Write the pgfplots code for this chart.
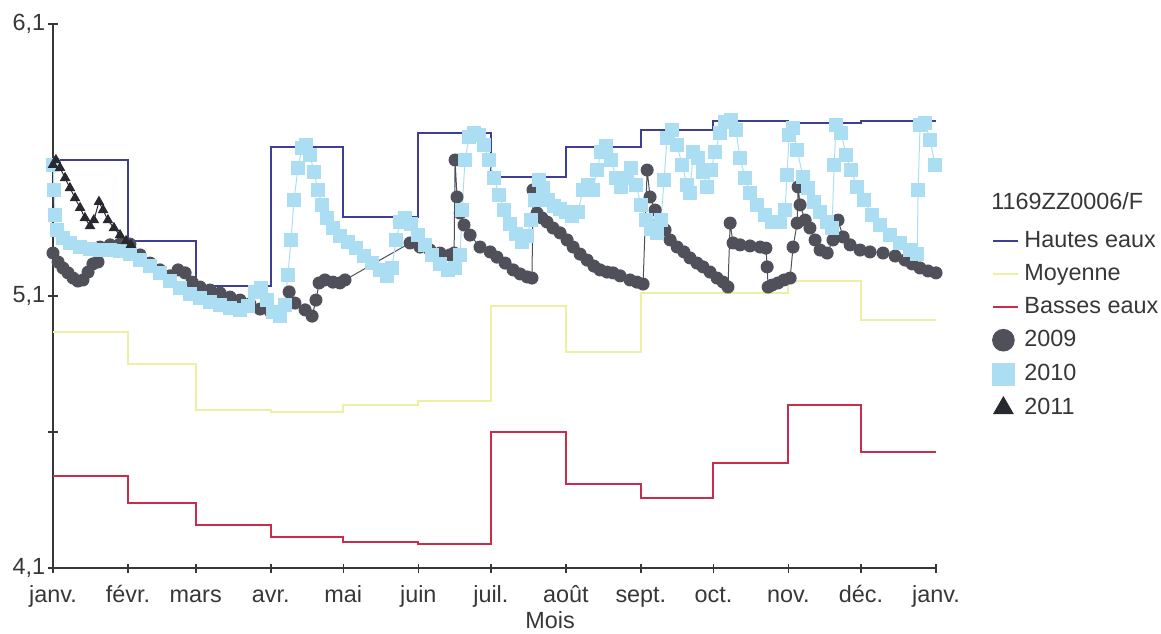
\documentclass[border=0pt]{standalone}
\usepackage{fontspec}
\setmainfont{Liberation Sans}
\usepackage{pgfplots}
\pgfplotsset{compat=1.18}
\definecolor{hautes}{RGB}{62,62,150}
\definecolor{moy}{RGB}{236,240,160}
\definecolor{basses}{RGB}{200,45,75}
\definecolor{c2009}{RGB}{80,80,90}
\definecolor{c2010}{RGB}{172,222,243}
\definecolor{c2011}{RGB}{40,40,48}
\definecolor{txt}{RGB}{55,55,55}
\pgfplotsset{legmark/.style={legend image code/.code={\draw[##1, mark size=#1] plot coordinates {(5pt,0pt)};}}}
\begin{document}
\begin{tikzpicture}[font=\fontsize{11.7}{14}\selectfont]
\path[use as bounding box] (-26.5pt,-32.5pt) rectangle (554pt,284pt);
\begin{axis}[
  scale only axis, width=441.5pt, height=272pt,
  at={(0,0)}, anchor=south west,
  xmin=0, xmax=365, ymin=4.1, ymax=6.1,
  axis x line*=bottom, axis y line*=left,
  axis line style={draw=txt, line width=0.8pt},
  tick align=center, major tick length=4.5pt,
  tick style={draw=txt, line width=0.8pt},
  xtick={0,31,59,90,120,151,181,212,243,273,304,334,365},
  xticklabels={janv.,févr.,mars,avr.,mai,juin,juil.,août,sept.,oct.,nov.,déc.,janv.},
  ytick={4.1,4.6,5.1,5.6,6.1},
  yticklabels={{4,1},{},{5,1},{},{6,1}},
  ticklabel style={text=txt, font=\fontsize{11.7}{14}\selectfont},
  xticklabel style={anchor=base, inner sep=0pt, yshift=-15pt},
  yticklabel style={anchor=east, inner sep=0pt, xshift=-1.5pt},
  xlabel={Mois},
  xlabel style={at={(axis description cs:0.563,0)}, anchor=base, yshift=-30pt, text=txt, inner sep=0pt},
  legend style={at={(axis description cs:1.0634,0.6213)}, anchor=north west, draw=none, fill=none,
    inner sep=0pt, row sep=6pt, column sep=2.5pt,
    nodes={inner sep=0pt, text height=8.5pt, text depth=2pt, text=txt},
    font=\fontsize{11.7}{14}\selectfont},
  legend cell align=left,
  legend image code/.code={\draw[#1] (0pt,0pt) -- (12.5pt,0pt);},
]
\addplot[hautes, line width=1pt, const plot] coordinates {
(0,5.600)(31,5.302)(59,5.137)(90,5.648)(120,5.392)(151,5.699)(181,5.537)(212,5.648)(243,5.710)(273,5.743)(304,5.736)(334,5.743)(365,5.743)};
\addlegendentry{Hautes eaux}
\addplot[moy, line width=1pt, const plot] coordinates {
(0,4.968)(31,4.850)(59,4.680)(90,4.675)(120,4.700)(151,4.715)(181,5.065)(212,4.893)(243,5.110)(273,5.110)(304,5.155)(334,5.010)(365,5.010)};
\addlegendentry{Moyenne}
\addplot[basses, line width=1pt, const plot] coordinates {
(0,4.438)(31,4.339)(59,4.258)(90,4.214)(120,4.196)(151,4.188)(181,4.600)(212,4.409)(243,4.357)(273,4.486)(304,4.699)(334,4.526)(365,4.526)};
\addlegendentry{Basses eaux}
\addplot[c2009, line width=0.5pt, mark=*, mark size=3pt, mark options={fill=c2009, draw=c2009}, legmark=5.4pt] coordinates {
(0,5.258)(2.1,5.225)(4.1,5.203)(6.2,5.185)(8.3,5.166)(10.3,5.155)(12.4,5.159)(14.5,5.188)(16.5,5.218)(18.6,5.225)(19.4,5.280)(23.6,5.288)(27.7,5.291)(31.8,5.291)(36.0,5.251)(40.1,5.221)(44.2,5.196)(48.4,5.174)(51.7,5.196)(54.6,5.185)(57.5,5.151)(60.8,5.133)(64.9,5.122)(69.0,5.111)(73.2,5.096)(77.3,5.085)(81.4,5.071)(85.6,5.052)(89.7,5.045)(93.8,5.038)(97.6,5.115)(100.0,5.074)(104.2,5.049)(107.1,5.026)(108.7,5.085)(110.0,5.148)(112.4,5.159)(115.7,5.151)(118.6,5.148)(120.7,5.159)(147.6,5.295)(151.7,5.280)(155.8,5.269)(160.0,5.258)(164.1,5.251)(165.8,5.258)(166.2,5.600)(167.0,5.464)(168.3,5.405)(169.9,5.361)(172.4,5.324)(176.5,5.280)(180.7,5.262)(183.5,5.243)(186.9,5.221)(190.2,5.196)(193.1,5.181)(196.0,5.170)(198.0,5.166)(198.4,5.490)(200.1,5.405)(202.1,5.387)(204.2,5.372)(206.7,5.350)(209.6,5.332)(212.5,5.306)(215.0,5.280)(217.9,5.254)(220.8,5.232)(223.6,5.210)(226.1,5.196)(229.0,5.188)(231.5,5.185)(234.4,5.174)(238.5,5.159)(241.4,5.151)(243.9,5.144)(245.6,5.563)(246.8,5.464)(248.9,5.416)(250.9,5.379)(253.0,5.343)(255.1,5.306)(258.0,5.280)(260.8,5.262)(263.3,5.240)(266.2,5.221)(268.7,5.207)(271.6,5.188)(274.5,5.166)(277.0,5.151)(279.0,5.133)(279.9,5.368)(281.1,5.295)(284.0,5.288)(288.1,5.284)(292.3,5.280)(294.7,5.276)(295.2,5.207)(295.6,5.133)(297.2,5.140)(299.7,5.148)(302.2,5.159)(304.7,5.166)(305.9,5.280)(307.6,5.368)(308.0,5.501)(308.8,5.435)(310.9,5.379)(312.9,5.350)(315.0,5.306)(317.1,5.269)(320.0,5.258)(322.4,5.306)(324.5,5.379)(326.6,5.317)(329.5,5.288)(333.6,5.269)(337.7,5.262)(343.1,5.258)(348.1,5.247)(352.2,5.232)(355.1,5.218)(358.4,5.203)(361.7,5.192)(365,5.185)};
\addlegendentry{2009}
\addplot[c2010, line width=0.5pt, mark=square*, mark size=3.3pt, mark options={fill=c2010, draw=c2010}, legmark=5.5pt] coordinates {
(0,5.582)(0.4,5.490)(0.8,5.398)(1.7,5.343)(4.1,5.313)(7.0,5.295)(11.2,5.280)(15.3,5.273)(19.4,5.269)(23.6,5.269)(27.7,5.265)(31.8,5.254)(36.0,5.232)(40.1,5.210)(44.2,5.185)(48.4,5.155)(52.5,5.129)(56.6,5.107)(60.8,5.093)(64.9,5.078)(69.0,5.067)(73.2,5.056)(77.3,5.049)(80.6,5.063)(83.5,5.115)(86.0,5.129)(88.5,5.085)(90.9,5.041)(93.8,5.026)(95.9,5.067)(97.1,5.177)(98.4,5.306)(99.6,5.453)(101.3,5.571)(102.9,5.644)(104.6,5.655)(106.2,5.618)(107.9,5.556)(109.5,5.490)(111.2,5.435)(113.3,5.387)(115.7,5.350)(118.6,5.321)(121.9,5.299)(125.3,5.276)(128.6,5.247)(131.9,5.221)(135.2,5.196)(138.1,5.174)(140.1,5.203)(141.8,5.306)(143.4,5.372)(145.5,5.387)(148.0,5.365)(150.9,5.324)(153.8,5.288)(156.7,5.251)(160.0,5.218)(163.3,5.196)(166.2,5.203)(168.3,5.251)(169.1,5.416)(170.3,5.600)(172.0,5.685)(174.0,5.699)(176.1,5.692)(178.2,5.655)(180.2,5.600)(182.3,5.534)(184.4,5.471)(186.4,5.416)(188.9,5.365)(191.4,5.328)(193.9,5.299)(196.0,5.321)(197.6,5.379)(199.3,5.453)(200.9,5.526)(202.6,5.497)(204.6,5.453)(207.1,5.431)(209.6,5.420)(212.1,5.409)(214.6,5.394)(217.0,5.409)(219.1,5.490)(221.2,5.508)(223.2,5.490)(224.9,5.563)(226.5,5.629)(228.6,5.651)(230.7,5.600)(232.7,5.534)(234.8,5.501)(236.9,5.534)(238.9,5.571)(241.0,5.508)(243.1,5.435)(245.1,5.379)(247.2,5.346)(249.7,5.332)(251.3,5.379)(252.6,5.526)(253.8,5.681)(255.9,5.710)(258.0,5.655)(260.0,5.582)(262.1,5.508)(263.3,5.479)(264.6,5.629)(266.6,5.607)(268.7,5.556)(270.4,5.501)(272.0,5.563)(273.7,5.629)(275.7,5.699)(277.8,5.740)(280.3,5.747)(282.3,5.710)(284.0,5.607)(286.1,5.534)(288.1,5.479)(291.0,5.435)(294.3,5.398)(297.2,5.372)(300.5,5.372)(302.6,5.416)(303.4,5.545)(304.3,5.692)(305.9,5.718)(307.6,5.637)(310.0,5.538)(312.1,5.497)(314.6,5.446)(317.1,5.409)(320.0,5.372)(322.0,5.350)(322.9,5.582)(323.7,5.729)(325.8,5.699)(327.8,5.618)(329.9,5.563)(332.4,5.501)(335.3,5.453)(338.6,5.398)(341.9,5.361)(346.0,5.324)(350.1,5.295)(354.3,5.269)(357.2,5.254)(357.6,5.490)(358.4,5.729)(360.5,5.736)(362.5,5.674)(364.6,5.582)};
\addlegendentry{2010}
\addplot[c2011, line width=0.5pt, mark=triangle*, mark size=2.6pt, mark options={fill=c2011, draw=c2011}, legmark=5.5pt] coordinates {
(0,5.582)(1.2,5.600)(2.9,5.571)(5.0,5.534)(7.0,5.497)(9.1,5.460)(11.2,5.424)(13.2,5.387)(15.3,5.357)(16.9,5.379)(19.0,5.446)(20.7,5.416)(22.7,5.379)(25.2,5.350)(27.7,5.324)(30.2,5.302)(32.2,5.288)};
\addlegendentry{2011}
\end{axis}
\node[anchor=base west, inner sep=0pt, text=txt] at (469pt,179pt) {1169ZZ0006/F};
\end{tikzpicture}
\end{document}
